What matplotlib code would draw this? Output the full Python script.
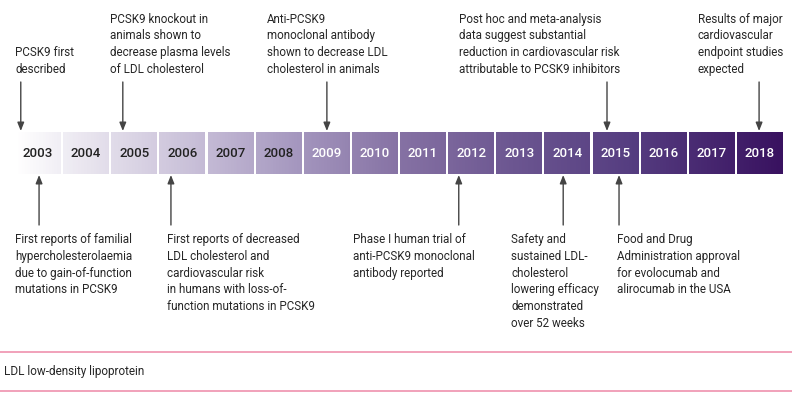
import numpy as np
import matplotlib
matplotlib.use("Agg")
import matplotlib.pyplot as plt
from matplotlib.colors import LinearSegmentedColormap
from matplotlib.patches import Rectangle

plt.rcParams['font.family'] = ['Roboto', 'DejaVu Sans']

years = list(range(2003, 2019))

top_events_x = [2003.12, 2005.24, 2009.48, 2015.30, 2018.46]
top_texts = [
    "PCSK9 first\ndescribed",
    "PCSK9 knockout in\nanimals shown to\ndecrease plasma levels\nof LDL cholesterol",
    "Anti-PCSK9\nmonoclonal antibody\nshown to decrease LDL\ncholesterol in animals",
    "Post hoc and meta-analysis\ndata suggest substantial\nreduction in cardiovascular risk\nattributable to PCSK9 inhibitors",
    "Results of major\ncardiovascular\nendpoint studies\nexpected",
]
top_text_x = [2003.0, 2004.97, 2008.24, 2012.22, 2017.19]

bottom_events_x = [2003.50, 2006.24, 2012.22, 2014.39, 2015.55]
bottom_texts = [
    "First reports of familial\nhypercholesterolaemia\ndue to gain-of-function\nmutations in PCSK9",
    "First reports of decreased\nLDL cholesterol and\ncardiovascular risk\nin humans with loss-of-\nfunction mutations in PCSK9",
    "Phase I human trial of\nanti-PCSK9 monoclonal\nantibody reported",
    "Safety and\nsustained LDL-\ncholesterol\nlowering efficacy\ndemonstrated\nover 52 weeks",
    "Food and Drug\nAdministration approval\nfor evolocumab and\nalirocumab in the USA",
]
bottom_text_x = [2003.0, 2006.16, 2010.02, 2013.31, 2015.51]

footnote = "LDL low-density lipoprotein"

# ---- layout ----
W, H = 792, 400
pitch = 48.13
x0 = 2003 - 15 / pitch
x1 = 2003 + (W - 15) / pitch

fig = plt.figure(figsize=(W / 100, H / 100), dpi=100)
ax = fig.add_axes([0, 0, 1, 1])
ax.set_xlim(x0, x1)
ax.set_ylim(H, 0)
ax.axis('off')

bar_top, bar_bot = 132, 174
box_w = 46 / pitch

cmap = LinearSegmentedColormap.from_list('pur', [
    (0.00, '#ffffff'), (0.12, '#e2ddea'), (0.25, '#c4bad5'),
    (0.37, '#a496be'), (0.50, '#8672a4'), (0.65, '#6c5691'),
    (0.80, '#563e81'), (1.00, '#391260')])
grad = np.linspace(0, 1, 800).reshape(1, -1)
bar_left = years[0]
bar_right = years[-1] + box_w
ax.imshow(grad, cmap=cmap, aspect='auto',
          extent=(bar_left, bar_right, bar_bot, bar_top), zorder=1)
# white gaps between boxes
for y in years[:-1]:
    ax.add_patch(Rectangle((y + box_w, bar_top - 1), 1 - box_w, bar_bot - bar_top + 2,
                           facecolor='white', edgecolor='none', zorder=2))

for i, y in enumerate(years):
    col = '#222222' if y <= 2008 else 'white'
    ax.text(y + box_w / 2, (bar_top + bar_bot) / 2 + 0.5, str(y), ha='center', va='center',
            fontsize=9.5, fontweight='medium', color=col, zorder=3)

txt_col = '#262626'
arr_col = '#444444'
fs = 8.4
ls = 1.38

for x, t, tx in zip(top_events_x, top_texts, top_text_x):
    ax.annotate('', xy=(x, bar_top - 1), xytext=(x, 82),
                arrowprops=dict(arrowstyle='-|>,head_length=0.5,head_width=0.2',
                                color=arr_col, lw=1.0, shrinkA=0, shrinkB=0), zorder=4)
    ax.text(tx, 76, t, ha='left', va='bottom', fontsize=fs, color=txt_col,
            linespacing=ls)

for x, t, tx in zip(bottom_events_x, bottom_texts, bottom_text_x):
    ax.annotate('', xy=(x, bar_bot + 1), xytext=(x, 225),
                arrowprops=dict(arrowstyle='-|>,head_length=0.5,head_width=0.2',
                                color=arr_col, lw=1.0, shrinkA=0, shrinkB=0), zorder=4)
    ax.text(tx, 233, t, ha='left', va='top', fontsize=fs, color=txt_col,
            linespacing=ls)

pink = '#f09ab4'
ax.plot([x0, x1], [352, 352], color=pink, lw=1.3)
ax.plot([x0, x1], [391, 391], color=pink, lw=1.3)
ax.text(2003 - 11 / pitch, 372, footnote, ha='left', va='center', fontsize=8.5, color=txt_col)

fig.savefig('out.png', dpi=100, facecolor='white')
